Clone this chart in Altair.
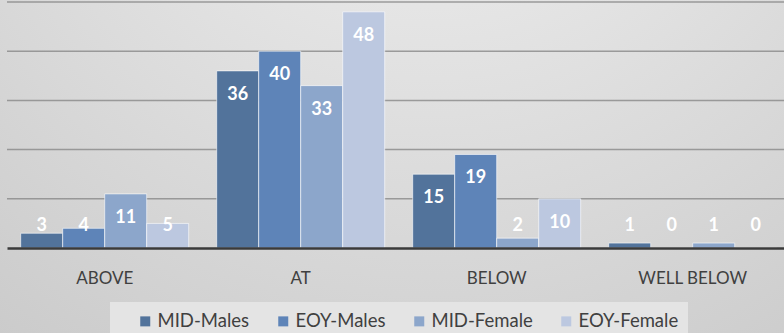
import altair as alt
import pandas as pd

# Counts per performance band, mid-year vs end-of-year, by gender
categories = ["ABOVE", "AT", "BELOW", "WELL BELOW"]
series_names = ["MID-Males", "EOY-Males", "MID-Female", "EOY-Female"]
mid_males = [3, 36, 15, 1]
eoy_males = [4, 40, 19, 0]
mid_female = [11, 33, 2, 1]
eoy_female = [5, 48, 10, 0]
series_colors = ["#52739b", "#5e84b8", "#8ca6cb", "#bcc8e0"]
grid_values = [10, 20, 30, 40, 50]

rows = []
for name, vals in zip(series_names, [mid_males, eoy_males, mid_female, eoy_female]):
    for cat, v in zip(categories, vals):
        rows.append({"category": cat, "series": name, "value": v})
df = pd.DataFrame(rows)

W, H = 777, 246
FONT = "Lato"

# soft radial backdrop behind the whole figure
backdrop = alt.Chart(alt.Data(values=[{"k": 1}])).mark_rect(
    fill={
        "gradient": "radial",
        "x1": 0.55, "y1": -0.05, "r1": 0,
        "x2": 0.55, "y2": -0.05, "r2": 1.15,
        "stops": [
            {"offset": 0, "color": "#f4f4f4"},
            {"offset": 1, "color": "#c2c2c2"},
        ],
    }
).encode(
    x=alt.value(-7), x2=alt.value(W), y=alt.value(-2), y2=alt.value(331)
)

# light panel behind the legend
legend_box = alt.Chart(alt.Data(values=[{"k": 1}])).mark_rect(
    fill="#e4e4e4"
).encode(
    x=alt.value(103), x2=alt.value(681), y=alt.value(300), y2=alt.value(340)
)

y_scale = alt.Scale(domain=[0, 50], nice=False)

# horizontal gridlines, drawn above the backdrop but below the bars
grid = alt.Chart(pd.DataFrame({"g": grid_values})).mark_rule(
    color="#888888", opacity=0.8, strokeWidth=1.5
).encode(
    y=alt.Y("g:Q", scale=y_scale, axis=None),
    x=alt.value(0), x2=alt.value(W),
)

x_enc = alt.X(
    "category:N",
    sort=categories,
    scale=alt.Scale(paddingInner=0.1429, paddingOuter=0.0536, align=0.652),
    axis=alt.Axis(
        title=None, labelAngle=0, ticks=False, labelPadding=22,
        labelFont=FONT, labelFontSize=17, labelColor="#404040",
        domainColor="#3a3a3a", domainWidth=2.5, grid=False, zindex=1,
    ),
)
xo_enc = alt.XOffset(
    "series:N", sort=series_names,
    scale=alt.Scale(paddingInner=0, paddingOuter=0),
)

bars = alt.Chart(df).mark_bar(
    stroke="white", strokeOpacity=0.6, strokeWidth=1
).encode(
    x=x_enc,
    xOffset=xo_enc,
    y=alt.Y("value:Q", scale=y_scale, axis=None),
    color=alt.Color(
        "series:N", sort=series_names,
        scale=alt.Scale(domain=series_names, range=series_colors),
        legend=alt.Legend(
            orient="none", legendX=129, legendY=310, direction="horizontal",
            title=None, symbolType="square", symbolSize=100,
            symbolStrokeWidth=0, labelFont=FONT, labelFontSize=18.5,
            labelColor="#404040", labelOffset=3, columnPadding=24,
        ),
    ),
)

labels = alt.Chart(df).transform_calculate(
    lab_y="max(datum.value - 4.87, 4.46)"
).mark_text(
    color="white", font=FONT, fontSize=18, fontWeight="bold", baseline="middle"
).encode(
    x=x_enc,
    xOffset=xo_enc,
    y=alt.Y("lab_y:Q", scale=y_scale, axis=None),
    text=alt.Text("value:Q"),
)

chart = alt.layer(backdrop, legend_box, grid, bars, labels).properties(
    width=W, height=H,
    padding={"left": 7, "top": 2, "right": 0, "bottom": 85},
    autosize=alt.AutoSizeParams(type="none"),
    background="#d6d6d6",
).configure_view(stroke=None)

chart.save("out.html", embed_options={"renderer": "svg", "actions": False})
